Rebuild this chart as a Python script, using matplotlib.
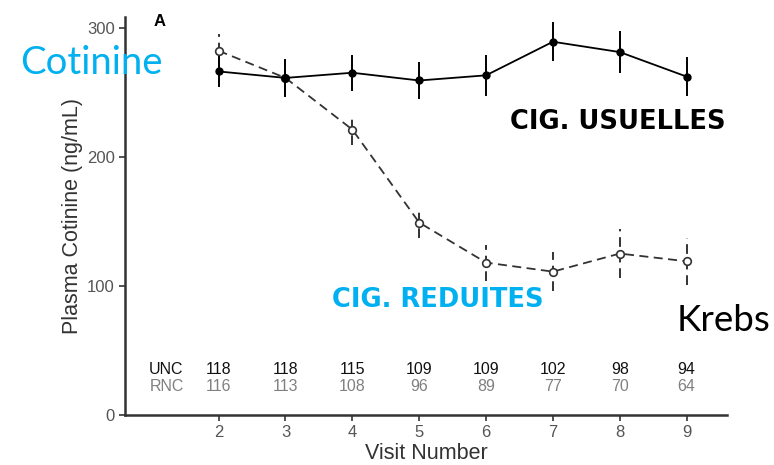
import matplotlib.pyplot as plt

plt.rcParams['font.family'] = ['Liberation Sans', 'DejaVu Sans']

visits = [2, 3, 4, 5, 6, 7, 8, 9]
unc_mean = [266, 261, 265, 259, 263, 289, 281, 262]
unc_err = [12, 15, 14, 14, 16, 15, 16, 15]
rnc_mean = [282, 261, 221, 149, 118, 111, 125, 119]
rnc_err = [13, 14, 12, 12, 14, 15, 19, 18]
unc_n = [118, 118, 115, 109, 109, 102, 98, 94]
rnc_n = [116, 113, 108, 96, 89, 77, 70, 64]

fig = plt.figure(figsize=(7.74, 4.65), dpi=100)
ax = fig.add_axes([0.1615, 0.1075, 0.7775, 0.8555])

# usual cigarettes (solid)
ax.errorbar(visits, unc_mean, yerr=unc_err, color='black', lw=1.3, marker='o', ms=5,
            elinewidth=1.4, capsize=0, zorder=3)
# reduced nicotine (dashed, open circles)
eb = ax.errorbar(visits, rnc_mean, yerr=rnc_err, color='#333333', lw=1.3, ls=(0, (5, 3)),
                 marker='o', ms=5.5, mfc='white', mec='#333333', mew=1.2,
                 elinewidth=1.4, capsize=0, zorder=2)
eb[-1][0].set_linestyle((0, (5, 3)))

# n table
ax.text(1.22, 35, 'UNC', ha='center', va='center', fontsize=11.5, color='#111111')
ax.text(1.22, 22, 'RNC', ha='center', va='center', fontsize=11.5, color='#808080')
for v, a, b in zip(visits, unc_n, rnc_n):
    ax.text(v, 35, str(a), ha='center', va='center', fontsize=11.5, color='#111111')
    ax.text(v, 22, str(b), ha='center', va='center', fontsize=11.5, color='#808080')

ax.set_xlim(0.6, 9.6)
ax.set_ylim(0, 308)
ax.set_xticks(visits)
ax.set_yticks([0, 100, 200, 300])
for s in ['top', 'right']:
    ax.spines[s].set_visible(False)
for s in ['left', 'bottom']:
    ax.spines[s].set_linewidth(1.8)
    ax.spines[s].set_color('#333333')
ax.tick_params(direction='out', length=4, width=1.2, color='#333333', labelsize=12,
               labelcolor='#555555')
ax.set_ylabel('Plasma Cotinine (ng/mL)', fontsize=15.5, color='#333333', labelpad=3)
ax.set_xlabel('Visit Number', fontsize=15.5, color='#333333', labelpad=2)

fig.text(160 / 774, 1 - 22 / 465, 'A', fontsize=12, fontweight='bold', ha='center', va='center')

fig.text(20 / 774, 1 - 63 / 465, 'Cotinine', fontsize=27.5, color='#00B0F0', family='Lato',
         ha='left', va='center')
fig.text(677 / 774, 1 - 320 / 465, 'Krebs', fontsize=26.5, color='black', family='Lato',
         ha='left', va='center')
fig.text(618 / 774, 1 - 122 / 465, 'CIG. USUELLES', fontsize=18.5, fontweight='bold',
         family='DejaVu Sans', color='black', ha='center', va='center')
fig.text(438 / 774, 1 - 300 / 465, 'CIG. REDUITES', fontsize=18.5, fontweight='bold',
         family='DejaVu Sans', color='#00B0F0', ha='center', va='center')

fig.savefig('out.png', dpi=100)
